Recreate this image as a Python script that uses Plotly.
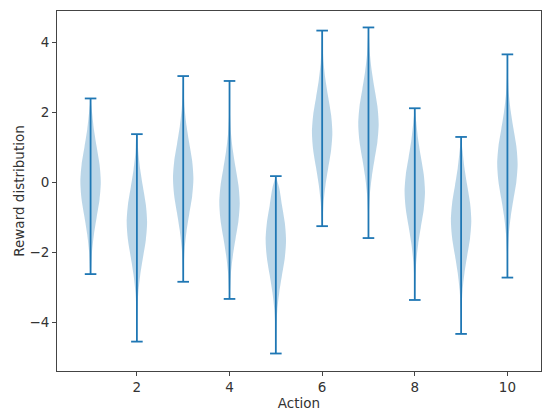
import plotly.graph_objects as go

# one violin per action (10-armed bandit)
actions = [1, 2, 3, 4, 5, 6, 7, 8, 9, 10]
reward_center = [0.0, -1.15, 0.1, -0.6, -1.66, 1.42, 1.66, -0.28, -1.1, 0.52]
reward_min = [-2.63, -4.56, -2.85, -3.34, -4.90, -1.26, -1.60, -3.37, -4.34, -2.73]
reward_max = [2.39, 1.37, 3.03, 2.89, 0.17, 4.33, 4.42, 2.11, 1.29, 3.65]

# shape of a violin body: relative half width at offsets from its centre
profile_offset = [-3.0, -2.5, -2.0, -1.5, -1.0, -0.5, 0.0, 0.5, 1.0, 1.5, 2.0, 2.5, 3.0]
profile_width = [0.01, 0.05, 0.14, 0.33, 0.60, 0.88, 1.0, 0.88, 0.60, 0.33, 0.14, 0.05, 0.01]

x_ticks = [2, 4, 6, 8, 10]
y_ticks = [-4, -2, 0, 2, 4]

BLUE = '#1f77b4'
HALF_WIDTH = 0.22
CAP = 0.125

fig = go.Figure()

for a, mu, lo, hi in zip(actions, reward_center, reward_min, reward_max):
    ys = [lo]
    ws = [0.0]
    for o, w in zip(profile_offset, profile_width):
        if lo < mu + o < hi:
            ys.append(mu + o)
            ws.append(w)
    ys.append(hi)
    ws.append(0.0)
    xs = [a + HALF_WIDTH * w for w in ws] + [a - HALF_WIDTH * w for w in reversed(ws)]
    fig.add_trace(go.Scatter(
        x=xs, y=ys + ys[::-1], fill='toself', mode='lines',
        line=dict(color='rgba(31,119,180,0.0)', width=0, shape='spline', smoothing=0.8),
        fillcolor='rgba(31,119,180,0.3)', hoverinfo='skip', showlegend=False))

# vertical range bars with caps
bar_x, bar_y = [], []
for a, lo, hi in zip(actions, reward_min, reward_max):
    bar_x += [a, a, None, a - CAP, a + CAP, None, a - CAP, a + CAP, None]
    bar_y += [lo, hi, None, hi, hi, None, lo, lo, None]
fig.add_trace(go.Scatter(x=bar_x, y=bar_y, mode='lines',
                         line=dict(color=BLUE, width=1.8),
                         hoverinfo='skip', showlegend=False))

axis_style = dict(showgrid=False, zeroline=False, showline=True, mirror=True,
                  linecolor='#444444', linewidth=1, ticks='outside', ticklen=4,
                  tickwidth=1, tickcolor='#444444', automargin=False,
                  tickfont=dict(size=13.5, color='#333333'))

fig.update_layout(
    width=550, height=418,
    margin=dict(l=57, r=9, t=11, b=47),
    plot_bgcolor='white', paper_bgcolor='white',
    font=dict(family='DejaVu Sans', size=13.5, color='#333333'),
    xaxis=dict(range=[0.275, 10.725], tickvals=x_ticks,
               title=dict(text='Action', font=dict(size=13.5), standoff=2), **axis_style),
    yaxis=dict(range=[-5.40, 4.89], tickvals=y_ticks,
               title=dict(text='Reward distribution', font=dict(size=13.5), standoff=1), **axis_style),
)

fig.write_html('out.html', config={'displayModeBar': False},
               post_script="document.body.style.margin='0';")
